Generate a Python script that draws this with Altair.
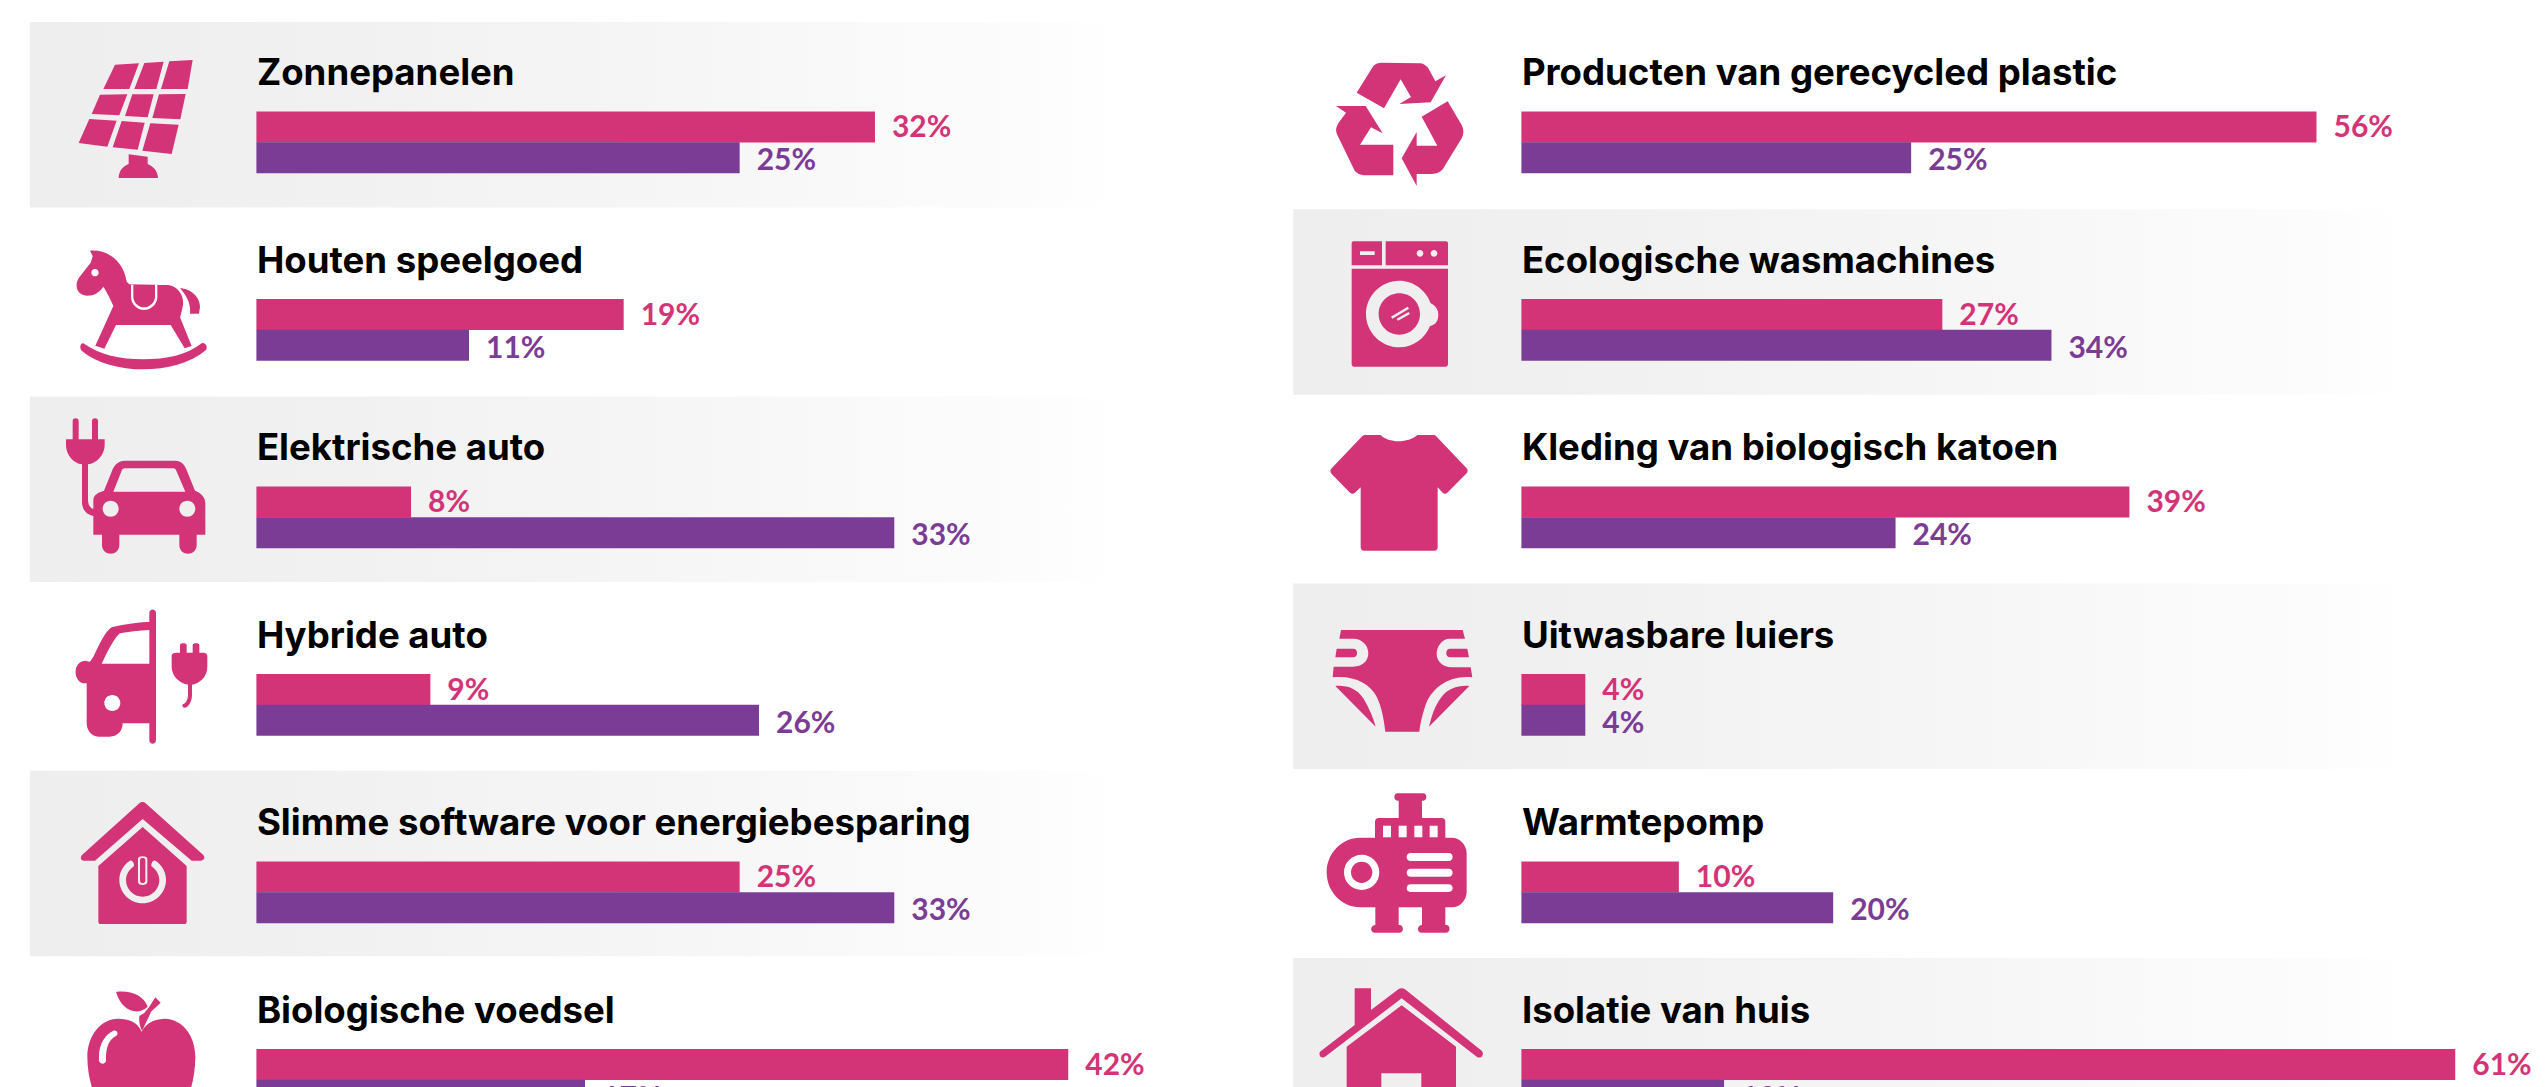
import re
import altair as alt
import pandas as pd

# ---- data ----
left_names = ["Zonnepanelen", "Houten speelgoed", "Elektrische auto", "Hybride auto",
              "Slimme software voor energiebesparing", "Biologische voedsel"]
left_pink_labels = ["32%", "19%", "8%", "9%", "25%", "42%"]
left_purple_labels = ["25%", "11%", "33%", "26%", "33%", "17%"]
left_pink_bars = [32, 19, 8, 9, 25, 42]
left_purple_bars = [25, 11, 33, 26, 33, 17]

right_names = ["Producten van gerecycled plastic", "Ecologische wasmachines",
               "Kleding van biologisch katoen", "Uitwasbare luiers", "Warmtepomp", "Isolatie van huis"]
right_pink_labels = ["56%", "27%", "39%", "4%", "10%", "61%"]
right_purple_labels = ["25%", "34%", "24%", "4%", "20%", "13%"]
right_pink_bars = [51, 27, 39, 4.1, 10.1, 59.9]
right_purple_bars = [25, 34, 24, 4.1, 20, 13]

PINK = "#d33477"
PURPLE = "#7b3c95"

ROWS = list(range(6))
ROW_STEP = 187.5
BAND_STEP = 187.2
ROW0_CENTER = 114.75   # page px
ICON_BOX = 140


def circle(cx, cy, r, ccw=True):
    k = 0.5523 * r
    if ccw:
        return (f"M {cx} {cy-r} C {cx-k} {cy-r} {cx-r} {cy-k} {cx-r} {cy} "
                f"C {cx-r} {cy+k} {cx-k} {cy+r} {cx} {cy+r} "
                f"C {cx+k} {cy+r} {cx+r} {cy+k} {cx+r} {cy} "
                f"C {cx+r} {cy-k} {cx+k} {cy-r} {cx} {cy-r} Z ")
    return (f"M {cx} {cy-r} C {cx+k} {cy-r} {cx+r} {cy-k} {cx+r} {cy} "
            f"C {cx+r} {cy+k} {cx+k} {cy+r} {cx} {cy+r} "
            f"C {cx-k} {cy+r} {cx-r} {cy+k} {cx-r} {cy} "
            f"C {cx-r} {cy-k} {cx-k} {cy-r} {cx} {cy-r} Z ")


def hole(x0, x1, y0, y1):
    return f"M {x0} {y0} L {x0} {y1} L {x1} {y1} L {x1} {y0} Z "


def pill(x0, x1, y0, y1):
    r = (y1 - y0) / 2
    return (f"M {x0+r} {y0} C {x0-r/3} {y0} {x0-r/3} {y1} {x0+r} {y1} L {x1-r} {y1} "
            f"C {x1+r/3} {y1} {x1+r/3} {y0} {x1-r} {y0} Z ")


def place(d, crop, row, anchor_x):
    """Crop-zoom coordinates (3x) to a symbol path normalised around the icon anchor."""
    cx, cy = crop
    center_y = ROW0_CENTER + ROW_STEP * row
    unit = ICON_BOX / 2
    out, is_x = [], True
    for tok in d.split():
        if re.fullmatch(r"[A-Za-z]", tok):
            out.append(tok)
        else:
            v = float(tok)
            if is_x:
                out.append(f"{(cx + v / 3 - anchor_x) / unit:.4f}")
            else:
                out.append(f"{(cy + v / 3 - center_y) / unit:.4f}")
            is_x = not is_x
    return " ".join(out)


solar = ("M 195 74 L 267 70 L 238 147 L 160 147 Z M 283 69 L 341 65 L 319 147 L 253 147 Z "
         "M 358 64 L 428 60 L 413 147 L 333 147 Z M 150 164 L 232 163 L 208 226 L 125 222 Z "
         "M 247 163 L 311 163 L 293 232 L 225 228 Z M 327 163 L 407 162 L 391 238 L 307 234 Z "
         "M 118 237 L 200 242 L 172 320 L 86 309 Z M 215 243 L 284 248 L 263 329 L 188 322 Z "
         "M 301 250 L 386 254 L 365 342 L 277 332 Z "
         "M 236 343 L 293 350 L 293 372 C 310 378 324 395 324 414 L 206 414 C 206 395 218 378 236 372 Z ")
horse = ("M 120 632 C 170 628 220 660 230 725 L 238 733 L 355 735 C 385 738 405 770 398 800 "
         "C 395 815 392 825 390 832 L 425 918 L 404 925 L 362 855 L 198 855 L 163 926 L 136 917 L 190 798 "
         "C 180 775 170 755 160 740 C 145 765 110 775 90 760 C 75 745 78 725 88 712 L 122 668 L 128 648 Z "
         + circle(135, 698, 11) +
         "M 243 734 L 243 770 C 243 795 265 810 282 810 C 300 810 322 795 322 770 L 322 734 L 315 734 "
         "L 315 770 C 315 790 295 802 282 802 C 268 802 250 790 250 770 L 250 734 Z "
         "M 390 745 C 420 745 450 770 450 800 L 447 821 L 420 821 C 422 790 412 770 390 745 Z "
         "M 100 910 C 150 945 210 958 280 958 C 350 958 410 945 455 910 C 465 905 475 920 468 930 "
         "C 420 970 350 988 280 988 C 210 988 140 970 95 932 C 87 922 92 908 100 910 Z ")
ecar = ("M 48 118 L 164 118 L 164 135 C 164 165 140 190 114 193 L 114 300 C 114 315 122 325 132 328 "
        "L 132 348 C 110 345 96 330 96 305 L 96 193 C 70 190 48 165 48 135 Z "
        "M 68 118 L 68 62 C 68 52 86 52 86 62 L 86 118 Z M 126 118 L 126 62 C 126 52 144 52 144 62 L 144 118 Z "
        "M 130 404 L 130 300 C 130 285 145 277 162 272 L 185 215 C 192 195 205 182 225 182 L 375 182 "
        "C 395 182 405 195 412 215 L 435 272 C 450 277 466 290 466 310 L 466 404 L 440 404 L 440 435 "
        "C 440 470 388 470 388 435 L 388 404 L 208 404 L 208 435 C 208 470 156 470 156 435 L 156 404 Z "
        "M 190 275 L 406 275 L 378 210 C 375 206 372 205 368 205 L 225 205 C 220 205 217 207 215 212 Z "
        + circle(182, 326, 24) + circle(412, 326, 24))
hybrid = ("M 298 640 C 298 625 318 625 318 640 L 318 1020 C 318 1035 298 1035 298 1020 Z "
          "M 120 785 L 130 770 C 150 730 165 695 185 682 C 220 672 260 668 298 665 L 298 970 L 218 970 "
          "C 218 995 200 1010 180 1010 L 145 1010 C 125 1010 110 990 110 970 L 110 850 L 105 850 "
          "C 70 850 65 785 105 782 Z "
          "M 155 791 L 298 791 L 298 690 C 265 692 235 695 210 700 C 195 710 175 750 155 791 Z "
          + circle(187, 909, 24) +
          "M 365 765 C 368 760 372 758 380 758 L 460 758 C 468 758 472 762 472 768 L 472 800 "
          "C 472 830 450 850 426 854 L 426 885 C 426 905 415 922 405 923 C 395 923 395 912 402 911 "
          "C 410 908 414 895 414 885 L 414 854 C 390 850 365 830 365 800 Z "
          "M 390 760 L 390 735 C 390 728 410 728 410 735 L 410 760 Z "
          "M 428 760 L 428 735 C 428 728 448 728 448 735 L 448 760 Z ")
smart = ("M 268 70 C 273 65 282 65 287 70 L 460 225 C 466 232 462 242 452 242 L 425 242 L 278 117 L 135 242 "
         "L 102 242 C 92 242 90 232 96 225 Z "
         "M 278 141 L 410 258 L 410 425 C 410 430 407 432 403 432 L 152 432 C 148 432 145 430 145 425 L 145 258 Z "
         "M 240 242 C 218 256 208 278 208 300 C 208 338 240 370 278 370 C 316 370 348 338 348 300 "
         "C 348 278 338 256 316 242 C 308 238 300 256 306 260 C 320 270 328 285 328 300 "
         "C 328 328 306 350 278 350 C 250 350 228 328 228 300 C 228 285 236 270 250 260 C 256 256 248 238 240 242 Z "
         "M 264 236 L 264 306 C 264 318 292 318 292 306 L 292 236 C 292 226 264 226 264 236 Z "
         "M 270 240 C 270 232 286 232 286 240 L 286 302 C 286 312 270 312 270 302 Z ")
apple = ("M 275 755 C 290 725 320 716 345 716 C 400 718 436 770 436 830 C 436 880 425 921 415 950 "
         "C 400 990 350 1010 300 1000 C 285 996 265 996 250 1000 C 200 1010 150 990 135 950 "
         "C 120 910 112 870 112 830 C 112 770 150 716 205 716 C 235 716 262 725 275 755 Z "
         "M 190 752 C 165 765 145 790 147 840 C 148 855 168 855 168 840 C 167 805 175 780 198 768 "
         "C 208 760 200 748 190 752 Z "
         "M 198 636 C 240 630 280 645 293 680 C 265 708 215 695 198 636 Z "
         "M 316 652 L 332 668 L 303 695 C 295 715 285 735 276 752 C 270 740 266 725 268 708 L 282 700 L 298 680 Z ")
recycle = ("M 140 158 L 190 78 C 197 70 205 68 215 68 L 330 70 C 340 70 350 78 355 85 L 376 124 L 408 106 "
           "L 362 187 L 268 192 L 303 171 L 272 118 L 222 205 Z "
           "M 78 198 L 167 198 L 218 280 L 183 262 L 150 314 L 250 314 L 250 406 L 165 406 "
           "C 150 406 138 398 133 390 L 82 285 C 76 272 78 262 85 250 L 108 218 Z "
           "M 413 184 L 455 255 C 462 268 462 282 455 295 L 400 385 C 392 397 380 402 365 402 L 320 402 "
           "L 320 438 L 275 355 L 320 276 L 320 317 L 382 317 L 335 230 Z ")
washer = ("M 125 610 C 125 606 128 604 132 604 L 216 604 L 216 676 L 125 676 Z " + hole(150, 194, 634, 645) +
          "M 227 604 L 407 604 C 412 604 414 607 414 610 L 414 676 L 227 676 Z "
          + circle(330, 640, 10) + circle(372, 640, 10) +
          "M 125 686 L 414 686 L 414 972 C 414 977 411 980 407 980 L 132 980 C 128 980 125 977 125 972 Z "
          "M 268 722 C 213 722 168 767 168 822 C 168 877 213 922 268 922 C 310 922 345 895 360 858 "
          "C 378 855 385 840 385 825 C 385 810 378 798 362 790 C 348 750 310 722 268 722 Z "
          + circle(268, 822, 62, ccw=False) +
          "M 243 830 L 247 836 L 297 806 L 293 800 Z M 260 836 L 264 842 L 300 822 L 296 816 Z ")
shirt = ("M 165 105 L 212 105 C 235 130 295 130 322 105 L 370 105 C 375 105 378 107 380 110 L 470 205 "
         "C 474 210 474 216 470 220 L 412 278 C 408 282 402 282 398 278 L 383 262 L 383 442 "
         "C 383 449 379 452 374 452 L 162 452 C 156 452 152 449 152 442 L 152 262 L 135 278 "
         "C 130 282 125 282 120 278 L 65 222 C 60 216 60 210 65 205 L 155 110 C 158 107 161 105 165 105 Z ")
diaper = ("M 93 690 L 458 690 L 465 716 L 420 716 C 395 716 380 740 380 762 C 380 785 400 802 425 802 "
          "L 482 802 L 487 832 C 420 825 365 860 345 920 C 335 950 330 975 328 995 L 226 995 "
          "C 222 960 215 920 200 890 C 180 850 130 825 68 832 L 71 800 L 130 800 "
          "C 155 800 175 785 175 760 C 175 735 155 716 130 716 L 88 716 Z "
          "M 80 746 L 130 746 C 145 746 145 772 130 772 L 76 772 Z "
          "M 420 746 L 472 746 L 477 772 L 420 772 C 405 772 405 746 420 746 Z "
          "M 76 858 C 110 855 140 865 160 895 C 178 925 190 955 197 980 Z "
          "M 478 858 L 357 980 C 365 950 372 920 395 890 C 415 865 445 855 478 858 Z ")
pump = ("M 150 173 L 195 173 L 195 125 C 195 118 200 114 207 114 L 266 114 L 266 62 L 262 62 "
        "C 250 62 250 40 262 40 L 340 40 C 352 40 352 62 340 62 L 336 62 L 336 114 L 395 114 "
        "C 402 114 406 118 406 125 L 406 173 L 425 173 C 450 173 470 195 470 220 L 470 335 "
        "C 470 360 450 382 425 382 L 406 382 L 406 435 L 410 435 C 422 438 422 458 408 458 L 335 458 "
        "C 320 458 320 438 335 435 L 336 435 L 336 382 L 266 382 L 266 435 L 270 435 "
        "C 282 438 282 458 268 458 L 195 458 C 180 458 180 438 195 435 L 196 435 L 196 382 L 150 382 "
        "C 95 382 50 335 50 277 C 50 220 95 173 150 173 Z "
        + hole(219, 243, 137, 172) + hole(266, 290, 137, 172) + hole(313, 337, 137, 172) + hole(359, 383, 137, 172)
        + circle(155, 277, 53) + circle(155, 277, 32, ccw=False)
        + pill(290, 428, 219, 243) + pill(290, 428, 266, 290) + pill(290, 428, 313, 336))
house = ("M 134 625 L 183 625 L 183 690 L 265 628 C 270 624 280 624 285 628 L 515 812 C 520 818 520 825 515 830 "
         "C 510 834 503 833 500 830 L 275 655 L 45 830 C 40 834 33 833 30 828 C 27 822 28 815 34 812 L 134 735 Z "
         "M 275 676 L 438 800 L 438 960 L 110 960 L 110 800 Z " + hole(214, 334, 880, 960))

LEFT_ANCHOR, RIGHT_ANCHOR = 143, 1401
LEFT_ZERO, LEFT_SCALE = 256.4, 19.33
RIGHT_ZERO, RIGHT_SCALE = 1521.4, 15.59
left_icons = [place(solar, (50, 40), 0, LEFT_ANCHOR), place(horse, (50, 40), 1, LEFT_ANCHOR),
              place(ecar, (50, 400), 2, LEFT_ANCHOR), place(hybrid, (50, 400), 3, LEFT_ANCHOR),
              place(smart, (50, 780), 4, LEFT_ANCHOR), place(apple, (50, 780), 5, LEFT_ANCHOR)]
right_icons = [place(recycle, (1310, 40), 0, RIGHT_ANCHOR), place(washer, (1310, 40), 1, RIGHT_ANCHOR),
               place(shirt, (1310, 400), 2, RIGHT_ANCHOR), place(diaper, (1310, 400), 3, RIGHT_ANCHOR),
               place(pump, (1310, 780), 4, RIGHT_ANCHOR), place(house, (1310, 780), 5, RIGHT_ANCHOR)]

GRADIENT = alt.Gradient(
    gradient="linear",
    stops=[alt.GradientStop(color="#eeeeee", offset=0),
           alt.GradientStop(color="#f1f1f1", offset=0.3),
           alt.GradientStop(color="#f7f7f7", offset=0.65),
           alt.GradientStop(color="#fcfcfc", offset=0.9),
           alt.GradientStop(color="#ffffff", offset=1)],
    x1=0, x2=1, y1=0, y2=0)

Y = alt.Y("row:N", axis=None,
          scale=alt.Scale(domain=ROWS, range=[13, 13 + ROW_STEP * 6], paddingInner=0, paddingOuter=0))
Y_BAND = alt.Y("row:N", axis=None,
               scale=alt.Scale(domain=ROWS, range=[13.15, 13.15 + BAND_STEP * 6], paddingInner=0, paddingOuter=0))
TITLE_FONT = "Inter"
LABEL_FONT = "Lato"


def panel(names, pink_bars, purple_bars, pink_labels, purple_labels, icons, band_rows,
          domain, band_span, icon_x, width):
    X = alt.X("v:Q", axis=None, scale=alt.Scale(domain=domain, nice=False, zero=False))
    df = pd.DataFrame({"row": ROWS, "name": names, "pink": pink_bars, "purple": purple_bars,
                       "pl": pink_labels, "ul": purple_labels})
    bands = (alt.Chart(pd.DataFrame({"row": band_rows, "a": band_span[0], "b": band_span[1]}))
             .mark_rect(color=GRADIENT, height=185.5, clip=True)
             .encode(x=alt.X("a:Q", axis=None, scale=alt.Scale(domain=domain, nice=False, zero=False)),
                     x2="b:Q", y=Y_BAND))
    pink = (alt.Chart(df).transform_calculate(v="datum.pink").transform_calculate(z="0")
            .mark_bar(color=PINK, size=31, yOffset=12.25, clip=True)
            .encode(x=X, x2=alt.X2("z:Q"), y=Y))
    purple = (alt.Chart(df).transform_calculate(v="datum.purple").transform_calculate(z="0")
              .mark_bar(color=PURPLE, size=31, yOffset=43, clip=True)
              .encode(x=X, x2=alt.X2("z:Q"), y=Y))
    pink_t = (alt.Chart(df).transform_calculate(v="datum.pink")
              .mark_text(color=PINK, font=LABEL_FONT, fontWeight="bold", fontSize=30, align="left",
                         baseline="alphabetic", dx=17, dy=22.5, clip=True)
              .encode(x=X, y=Y, text="pl:N"))
    purple_t = (alt.Chart(df).transform_calculate(v="datum.purple")
                .mark_text(color=PURPLE, font=LABEL_FONT, fontWeight="bold", fontSize=30, align="left",
                           baseline="alphabetic", dx=17, dy=55.5, clip=True)
                .encode(x=X, y=Y, text="ul:N"))
    titles = (alt.Chart(df).transform_calculate(v="0")
              .mark_text(color="#000000", font=TITLE_FONT, fontWeight="bold", fontSize=36.6, align="left",
                         baseline="alphabetic", dx=0.5, dy=-29.75, clip=True)
              .encode(x=X, y=Y, text="name:N"))
    icon_df = pd.DataFrame({"row": ROWS, "icon": [f"i{r}" for r in ROWS], "v": icon_x})
    icon_marks = (alt.Chart(icon_df)
                  .mark_point(filled=True, opacity=1, color=PINK, size=ICON_BOX ** 2, clip=True)
                  .encode(x=X, y=Y,
                          shape=alt.Shape("icon:N", legend=None,
                                          scale=alt.Scale(domain=[f"i{r}" for r in ROWS], range=icons))))
    return (alt.layer(bands, pink, purple, pink_t, purple_t, titles, icon_marks)
            .resolve_scale(y="independent")
            .properties(width=width, height=1079))


left = panel(left_names, left_pink_bars, left_purple_bars, left_pink_labels, left_purple_labels,
             left_icons, [0, 2, 4], [-(LEFT_ZERO - 8) / LEFT_SCALE, (1270 - LEFT_ZERO) / LEFT_SCALE],
             (-11.72, 44.73), (LEFT_ANCHOR - LEFT_ZERO) / LEFT_SCALE, 1262)
right = panel(right_names, right_pink_bars, right_purple_bars, right_pink_labels, right_purple_labels,
              right_icons, [1, 3, 5], [-(RIGHT_ZERO - 1270) / RIGHT_SCALE, (2539 - RIGHT_ZERO) / RIGHT_SCALE],
              (-14.64, 57.0), (RIGHT_ANCHOR - RIGHT_ZERO) / RIGHT_SCALE, 1269)

chart = (alt.hconcat(left, right, spacing=0)
         .resolve_scale(x="independent", y="independent", shape="independent")
         .properties(padding=0, background="white")
         .configure_view(stroke=None))

chart.save("out.html", embed_options={"renderer": "svg", "actions": False})
